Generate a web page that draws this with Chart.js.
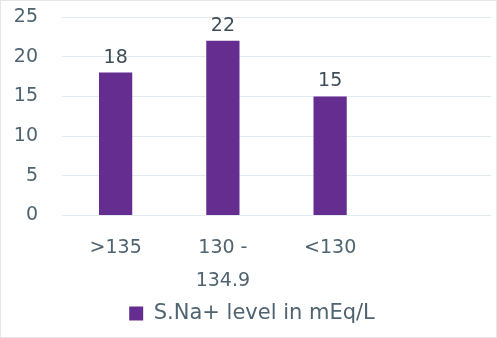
<!DOCTYPE html>
<html>
<head>
<meta charset="utf-8">
<script src="https://cdn.jsdelivr.net/npm/chart.js@4/dist/chart.umd.min.js"></script>
<style>
  html, body { margin: 0; padding: 0; background: #ffffff; }
  #wrap { position: relative; width: 497px; height: 338px; box-sizing: border-box; border: 1px solid #e6e6e6; }
  canvas { display: block; }
</style>
</head>
<body>
<div id="wrap"><canvas id="c" width="495" height="336"></canvas></div>
<script>
// Serum sodium groups and patient counts
const categories = ['>135', ['130 -', '134.9'], '<130', ''];
const patientCounts = [18, 22, 15, null];
const yTicks = [0, 5, 10, 15, 20, 25];
const seriesName = 'S.Na+ level in mEq/L';

const barColor = '#662d91';
const textColor = '#4f6370';
const fontFamily = '"DejaVu Sans", "Open Sans", sans-serif';

// Prints each bar's value just above it
const valueLabels = {
  id: 'valueLabels',
  afterDatasetsDraw(chart) {
    const ctx = chart.ctx;
    const meta = chart.getDatasetMeta(0);
    ctx.save();
    ctx.font = '19px ' + fontFamily;
    ctx.fillStyle = '#3e4e57';
    ctx.textAlign = 'center';
    ctx.textBaseline = 'alphabetic';
    meta.data.forEach((bar, i) => {
      const v = chart.data.datasets[0].data[i];
      if (v === null || v === undefined) return;
      ctx.fillText(String(v), bar.x, bar.y - 10);
    });
    ctx.restore();
  }
};

new Chart(document.getElementById('c'), {
  type: 'bar',
  data: {
    labels: categories,
    datasets: [{
      label: seriesName,
      data: patientCounts,
      backgroundColor: barColor,
      borderWidth: 0,
      barPercentage: 0.62,
      categoryPercentage: 0.5
    }]
  },
  options: {
    responsive: false,
    animation: false,
    devicePixelRatio: 1,
    layout: { padding: { top: 16, right: 5, left: 12, bottom: 3 } },
    plugins: {
      tooltip: { enabled: false },
      legend: {
        position: 'bottom',
        labels: {
          color: textColor,
          font: { size: 21, family: fontFamily },
          boxWidth: 14,
          boxHeight: 14,
          padding: 6
        }
      }
    },
    scales: {
      x: {
        grid: { display: false, drawTicks: false },
        border: { display: false },
        afterFit(axis) { axis.paddingLeft = 0; axis.paddingRight = 0; axis.height -= 17; },
        ticks: {
          color: textColor,
          font: { size: 19, family: fontFamily, lineHeight: 1.75 },
          padding: 16,
          maxRotation: 0,
          autoSkip: false
        }
      },
      y: {
        min: 0,
        max: 25,
        grid: { color: '#e4ebf0', drawTicks: false },
        border: { display: false },
        afterBuildTicks(axis) { axis.ticks = yTicks.map(v => ({ value: v })); },
        afterFit(axis) { axis.width = 49; axis.paddingTop = 0; axis.paddingBottom = 0; },
        ticks: {
          color: textColor,
          font: { size: 19, family: fontFamily },
          padding: 24
        }
      }
    }
  },
  plugins: [valueLabels]
});
</script>
</body>
</html>
